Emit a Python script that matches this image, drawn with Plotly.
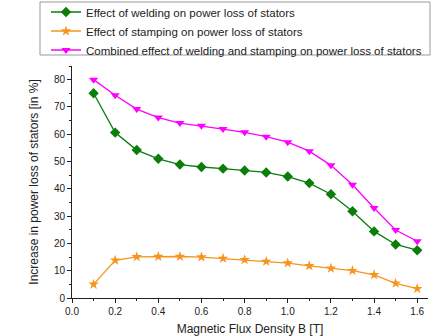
import plotly.graph_objects as go

B = [0.1, 0.2, 0.3, 0.4, 0.5, 0.6, 0.7, 0.8, 0.9, 1.0, 1.1, 1.2, 1.3, 1.4, 1.5, 1.6]
welding = [75.0, 60.6, 54.2, 51.0, 48.9, 48.0, 47.4, 46.7, 46.0, 44.5, 42.1, 38.0, 31.8, 24.4, 19.6, 17.5]
stamping = [5.0, 13.8, 15.1, 15.2, 15.2, 15.0, 14.5, 14.0, 13.4, 12.8, 11.8, 10.9, 10.0, 8.5, 5.4, 3.4]
combined = [80.0, 74.3, 69.2, 66.1, 64.1, 63.1, 61.9, 60.7, 59.1, 57.1, 53.8, 48.6, 41.5, 33.0, 24.9, 20.8]

names = [
    "Effect of welding on power loss of stators",
    "Effect of stamping on power loss of stators",
    "Combined effect of welding and stamping on power loss of stators",
]
colors = ["#0a7d0a", "#f7941d", "#ff00ff"]
symbols = ["diamond", "star", "triangle-down"]

fig = go.Figure()
for name, ys, c, s in zip(names, [welding, stamping, combined], colors, symbols):
    fig.add_trace(go.Scatter(
        x=B, y=ys, name=name, mode="lines+markers",
        line=dict(color=c, width=1.3),
        marker=dict(symbol=s, size=8, color=c),
    ))

axis_common = dict(
    showline=True, linecolor="#222", linewidth=1, ticks="outside", ticklen=4,
    tickcolor="#222", showgrid=False, zeroline=False, mirror=False,
    tickfont=dict(size=10, color="#222"),
)

# plot area in pixels: left 72, right 428, top 66, bottom 298
def px_x(p):
    return (p - 72) / 356.0

def px_y(p):
    return (298 - p) / 232.0

fig.update_layout(
    width=434, height=336,
    margin=dict(l=72, r=6, t=66, b=38, autoexpand=False),
    paper_bgcolor="white", plot_bgcolor="white",
    font=dict(family="Liberation Sans, Arial, sans-serif", color="#222"),
    xaxis=dict(range=[0, 1.65], tickvals=[0, 0.2, 0.4, 0.6, 0.8, 1.0, 1.2, 1.4, 1.6],
               tickformat=".1f",
               title=dict(text="Magnetic Flux Density B [T]", font=dict(size=12), standoff=8),
               **axis_common,
               minor=dict(ticks="outside", ticklen=2, tickcolor="#222", dtick=0.1)),
    yaxis=dict(range=[0, 85], dtick=10,
               title=dict(text="Increase in power loss of stators [in %]", font=dict(size=12), standoff=12),
               **axis_common,
               minor=dict(ticks="outside", ticklen=2, tickcolor="#222", dtick=5)),
    legend=dict(x=px_x(46), y=px_y(-2.5), xanchor="left", yanchor="top",
                borderwidth=0, font=dict(size=11.5),
                tracegroupgap=0, bgcolor="rgba(0,0,0,0)", itemwidth=30),
    showlegend=True,
    shapes=[dict(type="rect", xref="paper", yref="paper",
                 x0=px_x(40), x1=px_x(430), y0=px_y(55), y1=px_y(2),
                 line=dict(color="#999", width=1), fillcolor="rgba(0,0,0,0)")],
)

fig.write_html("out.html", post_script="document.body.style.margin='0';",
               config={"displayModeBar": False})
